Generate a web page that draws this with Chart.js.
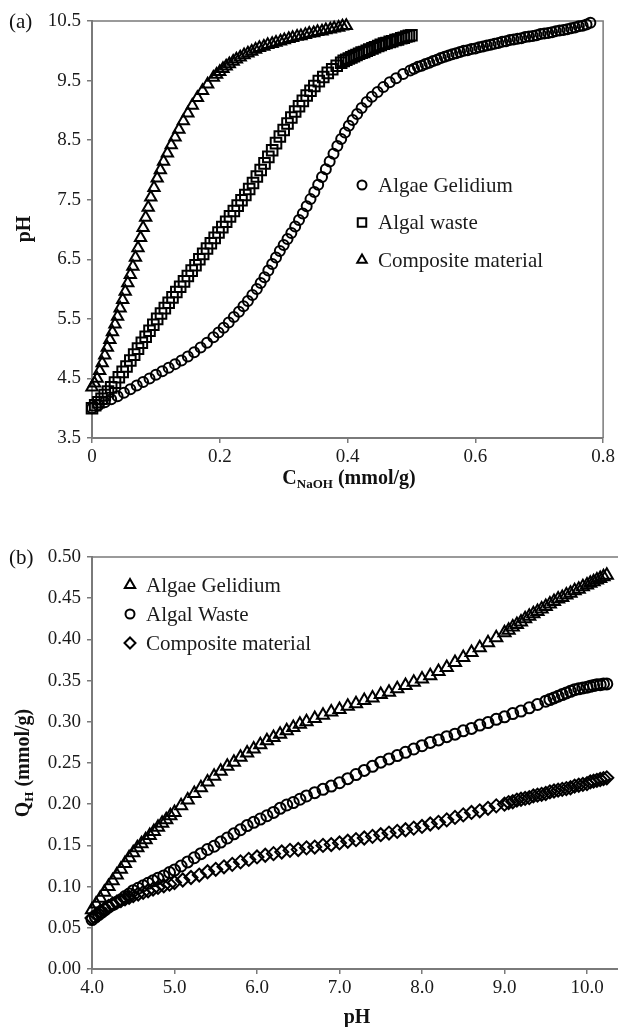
<!DOCTYPE html>
<html lang="en">
<head>
  <meta charset="UTF-8">
  <title>Potentiometric titration curves</title>
  <script src="https://cdn.jsdelivr.net/npm/chart.js"></script>
  <style>
    body { margin: 0; background: #fff; overflow: hidden; }
    #page { position: relative; width: 618px; height: 1027px; overflow: hidden;
            font-family: "Liberation Serif", "Times New Roman", serif; color: #111; }
    canvas { position: absolute; left: 0; }
    .lbl { position: absolute; white-space: nowrap; line-height: 1; }
    .panel { font-size: 21px; transform: translateY(-50%); }
    .xtitle { font-size: 20px; font-weight: bold; transform: translate(-50%, -50%); }
    .ytitle { font-size: 20px; font-weight: bold; transform: translate(-50%, -50%) rotate(-90deg); }
    sub { font-size: 13px; vertical-align: -4px; }
  </style>
</head>
<body>
<div id="page">
  <canvas id="chartA" width="618" height="500" style="top:0"></canvas>
  <canvas id="chartB" width="630" height="527" style="top:500px"></canvas>

  <div class="lbl panel" style="left:9px; top:21px">(a)</div>
  <div class="lbl panel" style="left:9px; top:557px">(b)</div>
  <div class="lbl ytitle" style="left:23px; top:229px">pH</div>
  <div class="lbl xtitle" style="left:349px; top:478px">C<sub>NaOH</sub> (mmol/g)</div>
  <div class="lbl ytitle" style="left:23px; top:763px">Q<sub>H</sub> (mmol/g)</div>
  <div class="lbl xtitle" style="left:357px; top:1016px">pH</div>
</div>

<script>
// ---- (a) pH vs NaOH added ----
const naohTicks = [0, 0.2, 0.4, 0.6, 0.8];
const phTicksA = [3.5, 4.5, 5.5, 6.5, 7.5, 8.5, 9.5, 10.5];

const naohGelidium = [0, 0.010, 0.020, 0.030, 0.040, 0.050, 0.060, 0.070, 0.080, 0.090,
  0.100, 0.110, 0.120, 0.130, 0.140, 0.150, 0.160, 0.170, 0.180, 0.190,
  0.198, 0.206, 0.214, 0.222, 0.230, 0.237, 0.244, 0.251, 0.258,
  0.264, 0.270, 0.276, 0.282, 0.288, 0.294, 0.300, 0.306, 0.312, 0.318, 0.324, 0.330,
  0.336, 0.342, 0.348, 0.354, 0.360, 0.366, 0.372, 0.378, 0.384, 0.390, 0.396, 0.402, 0.408,
  0.415, 0.422, 0.430, 0.438, 0.447, 0.456, 0.466, 0.476, 0.487, 0.498,
  0.504, 0.510, 0.516, 0.522, 0.528, 0.534, 0.540, 0.546, 0.552, 0.558,
  0.564, 0.570, 0.576, 0.582, 0.588, 0.594, 0.600, 0.606, 0.612, 0.618,
  0.624, 0.630, 0.636, 0.642, 0.648, 0.654, 0.660, 0.666, 0.672, 0.678,
  0.684, 0.690, 0.696, 0.702, 0.708, 0.714, 0.720, 0.726, 0.732, 0.738,
  0.744, 0.750, 0.756, 0.762, 0.768, 0.774, 0.780];
const phGelidium = [4.00, 4.05, 4.10, 4.15, 4.20, 4.26, 4.32, 4.38, 4.44, 4.50,
  4.56, 4.62, 4.68, 4.74, 4.80, 4.87, 4.94, 5.02, 5.10, 5.19,
  5.27, 5.35, 5.44, 5.53, 5.62, 5.71, 5.80, 5.90, 6.00,
  6.10, 6.20, 6.31, 6.42, 6.53, 6.64, 6.74, 6.84, 6.94, 7.05, 7.16, 7.27,
  7.39, 7.51, 7.63, 7.75, 7.88, 8.01, 8.14, 8.27, 8.40, 8.52, 8.63, 8.74, 8.84,
  8.94, 9.04, 9.14, 9.23, 9.31, 9.39, 9.47, 9.54, 9.61, 9.67,
  9.70, 9.73, 9.75, 9.78, 9.80, 9.83, 9.85, 9.88, 9.90, 9.92,
  9.94, 9.96, 9.98, 10.00, 10.01, 10.03, 10.04, 10.06, 10.07, 10.09,
  10.10, 10.12, 10.13, 10.15, 10.16, 10.18, 10.19, 10.20, 10.21, 10.23,
  10.24, 10.25, 10.26, 10.28, 10.29, 10.30, 10.31, 10.33, 10.34, 10.35,
  10.36, 10.38, 10.39, 10.41, 10.42, 10.44, 10.47];

const naohWaste = [0, 0.005, 0.010, 0.015, 0.020, 0.025, 0.030,
  0.036, 0.042, 0.048, 0.054, 0.060, 0.066, 0.072, 0.078, 0.084, 0.090,
  0.096, 0.102, 0.108, 0.114, 0.120, 0.126, 0.132, 0.138, 0.144, 0.150,
  0.156, 0.162, 0.168, 0.174, 0.180, 0.186, 0.192, 0.198, 0.204, 0.210,
  0.216, 0.222, 0.228, 0.234, 0.240, 0.246, 0.252, 0.258, 0.264, 0.270,
  0.276, 0.282, 0.288, 0.294, 0.300, 0.306, 0.312, 0.318, 0.324, 0.330,
  0.336, 0.342, 0.348, 0.355, 0.362, 0.369, 0.376, 0.383,
  0.390, 0.394, 0.398, 0.402, 0.406, 0.410, 0.414, 0.418, 0.422, 0.426,
  0.430, 0.434, 0.439, 0.443, 0.448, 0.452, 0.457, 0.461, 0.466, 0.470,
  0.475, 0.479, 0.484, 0.488, 0.492, 0.496, 0.500];
const phWaste = [4.00, 4.05, 4.10, 4.16, 4.22, 4.28, 4.35,
  4.43, 4.52, 4.61, 4.70, 4.80, 4.90, 5.00, 5.10, 5.20, 5.30,
  5.40, 5.50, 5.59, 5.68, 5.77, 5.86, 5.95, 6.04, 6.13, 6.22,
  6.31, 6.40, 6.50, 6.59, 6.68, 6.77, 6.86, 6.95, 7.04, 7.13,
  7.22, 7.31, 7.40, 7.49, 7.58, 7.68, 7.78, 7.89, 8.00, 8.11,
  8.22, 8.33, 8.45, 8.56, 8.67, 8.78, 8.88, 8.98, 9.07, 9.16,
  9.25, 9.33, 9.41, 9.49, 9.56, 9.63, 9.69, 9.75,
  9.80, 9.83, 9.85, 9.87, 9.89, 9.91, 9.93, 9.95, 9.97, 9.98,
  10.00, 10.02, 10.04, 10.06, 10.08, 10.10, 10.12, 10.13, 10.15, 10.16,
  10.18, 10.19, 10.21, 10.22, 10.24, 10.25, 10.26];

const naohComposite = [0, 0.004, 0.008, 0.012, 0.016, 0.020, 0.024, 0.028, 0.032, 0.036,
  0.040, 0.044, 0.048, 0.052, 0.056, 0.060, 0.064, 0.068, 0.072, 0.076,
  0.080, 0.084, 0.088, 0.092, 0.097, 0.102, 0.107, 0.112, 0.118, 0.124,
  0.130, 0.136, 0.143, 0.150, 0.157, 0.165, 0.173, 0.181,
  0.190, 0.195, 0.200, 0.205, 0.210, 0.215, 0.221, 0.226, 0.232, 0.238,
  0.244, 0.250, 0.256, 0.262, 0.269, 0.275, 0.282, 0.288, 0.295, 0.301,
  0.308, 0.314, 0.321, 0.327, 0.334, 0.340, 0.347, 0.353, 0.360, 0.366,
  0.373, 0.379, 0.386, 0.392, 0.398];
const phComposite = [4.35, 4.42, 4.50, 4.63, 4.76, 4.89, 5.02, 5.15, 5.28, 5.41,
  5.54, 5.68, 5.82, 5.96, 6.10, 6.24, 6.38, 6.53, 6.69, 6.86,
  7.03, 7.20, 7.37, 7.54, 7.70, 7.86, 8.00, 8.14, 8.28, 8.42,
  8.55, 8.68, 8.82, 8.95, 9.08, 9.21, 9.33, 9.44,
  9.55, 9.60, 9.65, 9.70, 9.74, 9.78, 9.82, 9.86, 9.89, 9.93,
  9.96, 9.99, 10.02, 10.05, 10.07, 10.10, 10.12, 10.14, 10.16, 10.18,
  10.20, 10.22, 10.24, 10.25, 10.27, 10.29, 10.30, 10.32, 10.33, 10.35,
  10.36, 10.38, 10.39, 10.41, 10.42];

// ---- (b) proton binding vs pH ----
const phTicksB = [4, 5, 6, 7, 8, 9, 10];
const qTicks = [0, 0.05, 0.10, 0.15, 0.20, 0.25, 0.30, 0.35, 0.40, 0.45, 0.50];

const phGelidiumB = [4.00, 4.05, 4.10, 4.15, 4.20, 4.25, 4.30, 4.35, 4.40, 4.45, 4.50,
  4.55, 4.60, 4.65, 4.70, 4.75, 4.80, 4.85, 4.90, 4.95, 5.00,
  5.08, 5.16, 5.24, 5.32, 5.40, 5.48, 5.56, 5.64, 5.72, 5.80,
  5.88, 5.96, 6.04, 6.12, 6.20, 6.28, 6.36, 6.44, 6.52, 6.60,
  6.70, 6.80, 6.90, 7.00, 7.10, 7.20, 7.30, 7.40, 7.50, 7.60,
  7.70, 7.80, 7.90, 8.00, 8.10, 8.20, 8.30, 8.40, 8.50, 8.60,
  8.70, 8.80, 8.90,
  9.00, 9.05, 9.10, 9.15, 9.20, 9.25, 9.30, 9.35, 9.40, 9.45,
  9.50, 9.55, 9.60, 9.65, 9.70, 9.75, 9.80, 9.85, 9.90, 9.95,
  10.00, 10.04, 10.08, 10.12, 10.16, 10.20, 10.24];
const qGelidium = [0.072, 0.079, 0.086, 0.093, 0.100, 0.107, 0.114, 0.121, 0.128, 0.135, 0.141,
  0.147, 0.152, 0.157, 0.162, 0.167, 0.172, 0.177, 0.181, 0.186, 0.190,
  0.198, 0.205, 0.213, 0.220, 0.227, 0.234, 0.240, 0.246, 0.251, 0.257,
  0.262, 0.267, 0.272, 0.277, 0.281, 0.285, 0.289, 0.293, 0.297, 0.300,
  0.304, 0.308, 0.312, 0.315, 0.319, 0.322, 0.326, 0.329, 0.333, 0.336,
  0.340, 0.344, 0.348, 0.352, 0.356, 0.361, 0.366, 0.372, 0.378, 0.384,
  0.390, 0.396, 0.402,
  0.408, 0.411, 0.415, 0.418, 0.421, 0.425, 0.428, 0.431, 0.434, 0.437,
  0.440, 0.443, 0.446, 0.449, 0.451, 0.454, 0.456, 0.459, 0.461, 0.464,
  0.466, 0.468, 0.470, 0.472, 0.474, 0.476, 0.478];

const phWasteB = [4.00, 4.04, 4.08, 4.12, 4.16, 4.20, 4.25, 4.30, 4.35, 4.40,
  4.45, 4.50, 4.56, 4.62, 4.68, 4.74, 4.80, 4.87, 4.94, 5.00,
  5.08, 5.16, 5.24, 5.32, 5.40, 5.48, 5.56, 5.64, 5.72, 5.80,
  5.88, 5.96, 6.04, 6.12, 6.20, 6.28, 6.36, 6.44, 6.52, 6.60,
  6.70, 6.80, 6.90, 7.00, 7.10, 7.20, 7.30, 7.40, 7.50, 7.60,
  7.70, 7.80, 7.90, 8.00, 8.10, 8.20, 8.30, 8.40, 8.50, 8.60,
  8.70, 8.80, 8.90, 9.00, 9.10, 9.20, 9.30, 9.40,
  9.50, 9.55, 9.60, 9.65, 9.70, 9.75, 9.80, 9.85, 9.90, 9.95,
  10.00, 10.04, 10.08, 10.12, 10.16, 10.20, 10.24];
const qWaste = [0.060, 0.063, 0.066, 0.069, 0.072, 0.075, 0.078, 0.081, 0.084, 0.088,
  0.091, 0.095, 0.098, 0.101, 0.104, 0.107, 0.110, 0.113, 0.117, 0.120,
  0.125, 0.130, 0.135, 0.140, 0.145, 0.149, 0.154, 0.159, 0.164, 0.169,
  0.174, 0.178, 0.182, 0.186, 0.190, 0.195, 0.199, 0.202, 0.206, 0.210,
  0.214, 0.218, 0.222, 0.226, 0.231, 0.236, 0.241, 0.246, 0.251, 0.255,
  0.259, 0.263, 0.267, 0.271, 0.275, 0.278, 0.282, 0.285, 0.289, 0.292,
  0.296, 0.299, 0.303, 0.306, 0.310, 0.313, 0.317, 0.321,
  0.325, 0.327, 0.329, 0.331, 0.333, 0.335, 0.337, 0.339, 0.340, 0.341,
  0.342, 0.343, 0.344, 0.345, 0.345, 0.346, 0.346];

const phCompositeB = [4.00, 4.05, 4.10, 4.15, 4.20, 4.25, 4.30, 4.35, 4.40, 4.45, 4.50,
  4.56, 4.62, 4.68, 4.74, 4.80, 4.87, 4.94, 5.00,
  5.10, 5.20, 5.30, 5.40, 5.50, 5.60, 5.70, 5.80, 5.90, 6.00,
  6.10, 6.20, 6.30, 6.40, 6.50, 6.60, 6.70, 6.80, 6.90, 7.00,
  7.10, 7.20, 7.30, 7.40, 7.50, 7.60, 7.70, 7.80, 7.90, 8.00,
  8.10, 8.20, 8.30, 8.40, 8.50, 8.60, 8.70, 8.80, 8.90,
  9.00, 9.05, 9.10, 9.15, 9.20, 9.25, 9.30, 9.35, 9.40, 9.45,
  9.50, 9.55, 9.60, 9.65, 9.70, 9.75, 9.80, 9.85, 9.90, 9.95,
  10.00, 10.04, 10.08, 10.12, 10.16, 10.20, 10.24];
const qComposite = [0.062, 0.066, 0.070, 0.073, 0.076, 0.079, 0.081, 0.083, 0.085, 0.087, 0.089,
  0.091, 0.093, 0.095, 0.097, 0.099, 0.101, 0.103, 0.105,
  0.108, 0.111, 0.114, 0.118, 0.121, 0.124, 0.127, 0.130, 0.133, 0.136,
  0.138, 0.140, 0.142, 0.144, 0.145, 0.147, 0.148, 0.150, 0.151, 0.153,
  0.155, 0.157, 0.159, 0.161, 0.163, 0.165, 0.167, 0.169, 0.171, 0.173,
  0.176, 0.178, 0.181, 0.184, 0.187, 0.190, 0.192, 0.195, 0.198,
  0.200, 0.202, 0.203, 0.205, 0.206, 0.207, 0.208, 0.210, 0.211, 0.212,
  0.213, 0.215, 0.216, 0.217, 0.218, 0.219, 0.220, 0.222, 0.223, 0.224,
  0.225, 0.227, 0.228, 0.229, 0.230, 0.231, 0.232];

const serif = '"Liberation Serif", "Times New Roman", serif';
Chart.defaults.font.family = serif;
Chart.defaults.color = '#1a1a1a';
const axisGray = '#7a7a7a';

function pairs(xs, ys) {
  return xs.map((x, i) => ({ x: x, y: ys[i] }));
}

function series(label, xs, ys, style, radius) {
  return {
    label: label,
    data: pairs(xs, ys),
    pointStyle: style,
    pointRadius: radius,
    pointBorderWidth: 2,
    pointBorderColor: '#000',
    pointBackgroundColor: 'rgba(0,0,0,0)',
    showLine: false,
    clip: false
  };
}

// top + right edges of the plot box
const frame = {
  id: 'frame',
  beforeDatasetsDraw(chart) {
    const a = chart.chartArea, ctx = chart.ctx;
    ctx.save();
    ctx.strokeStyle = axisGray;
    ctx.lineWidth = 1.5;
    ctx.beginPath();
    ctx.moveTo(a.left, a.top);
    ctx.lineTo(a.right, a.top);
    ctx.lineTo(a.right, a.bottom);
    ctx.stroke();
    ctx.restore();
  }
};

// legend box placed inside the plot
const innerLegend = {
  id: 'innerLegend',
  afterDraw(chart, args, opts) {
    const ctx = chart.ctx;
    ctx.save();
    ctx.font = '21px ' + serif;
    ctx.textBaseline = 'middle';
    chart.data.datasets.forEach((ds, i) => {
      const y = opts.y + i * opts.gap;
      ctx.strokeStyle = '#000';
      ctx.fillStyle = 'rgba(0,0,0,0)';
      ctx.lineWidth = 2;
      Chart.helpers.drawPoint(ctx, {
        pointStyle: ds.pointStyle, rotation: 0,
        radius: opts.sizes[i], borderWidth: 2
      }, opts.x, y);
      ctx.fillStyle = '#1a1a1a';
      ctx.fillText(ds.label, opts.x + 16, y + 1);
    });
    ctx.restore();
  }
};

function linearAxis(min, max, ticks, fmt, isX, size) {
  return {
    type: 'linear',
    min: min,
    max: max,
    border: { display: true, color: axisGray, width: 2 },
    grid: { display: true, drawOnChartArea: false, drawTicks: true, tickLength: 5, color: axisGray, lineWidth: 1.5 },
    ticks: { font: { size: 19 }, padding: isX ? 3 : 6, maxRotation: 0, autoSkip: false, callback: fmt },
    afterBuildTicks(scale) { scale.ticks = ticks.map(v => ({ value: v })); },
    afterFit(scale) { if (isX) scale.height = size; else scale.width = size; }
  };
}

const baseOptions = {
  responsive: false,
  animation: false,
  devicePixelRatio: 1,
  events: []
};

new Chart(document.getElementById('chartA'), {
  type: 'scatter',
  data: {
    datasets: [
      series('Algae Gelidium', naohGelidium, phGelidium, 'circle', 5),
      series('Algal waste', naohWaste, phWaste, 'rect', 7.5),
      series('Composite material', naohComposite, phComposite, 'triangle', 6.5)
    ]
  },
  options: Object.assign({}, baseOptions, {
    layout: { padding: { top: 21, right: 13, left: 0, bottom: 0 } },
    scales: {
      x: linearAxis(0, 0.8, naohTicks, v => v === 0 ? '0' : v.toFixed(1), true, 62),
      y: linearAxis(3.5, 10.5, phTicksA, v => v.toFixed(1), false, 92)
    },
    plugins: {
      legend: { display: false },
      tooltip: { enabled: false },
      innerLegend: { x: 362, y: 185, gap: 37.5, sizes: [4.5, 6, 5.5] }
    }
  }),
  plugins: [frame, innerLegend]
});

new Chart(document.getElementById('chartB'), {
  type: 'scatter',
  data: {
    datasets: [
      series('Algae Gelidium', phGelidiumB, qGelidium, 'triangle', 7),
      series('Algal Waste', phWasteB, qWaste, 'circle', 5.5),
      series('Composite material', phCompositeB, qComposite, 'rectRot', 6.5)
    ]
  },
  options: Object.assign({}, baseOptions, {
    layout: { padding: { top: 57, right: 10, left: 0, bottom: 0 } },
    scales: {
      x: linearAxis(4, 10.4, phTicksB, v => v.toFixed(1), true, 58),
      y: linearAxis(0, 0.5, qTicks, v => v.toFixed(2), false, 92)
    },
    plugins: {
      legend: { display: false },
      tooltip: { enabled: false },
      innerLegend: { x: 130, y: 85, gap: 29, sizes: [6, 4.5, 5.5] }
    }
  }),
  plugins: [frame, innerLegend]
});
</script>
</body>
</html>
